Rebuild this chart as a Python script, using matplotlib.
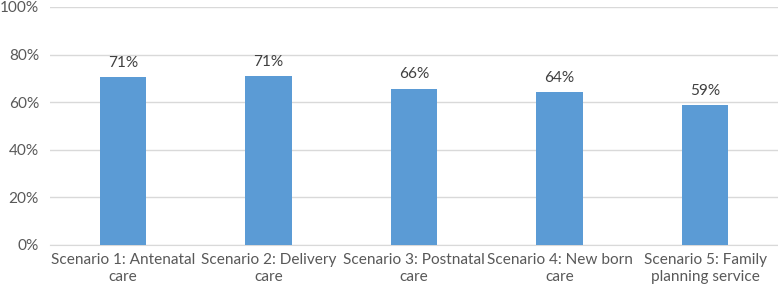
import matplotlib
matplotlib.use("Agg")
import matplotlib.pyplot as plt
import numpy as np

categories = ["Scenario 1: Antenatal\ncare", "Scenario 2: Delivery\ncare",
              "Scenario 3: Postnatal\ncare", "Scenario 4: New born\ncare",
              "Scenario 5: Family\nplanning service"]
values = [70.7, 71.1, 65.7, 64.1, 58.9]
labels = ["71%", "71%", "66%", "64%", "59%"]
yticks = [0, 20, 40, 60, 80, 100]

plt.rcParams['font.family'] = ['Lato', 'DejaVu Sans']
fs = 11.1

fig = plt.figure(figsize=(7.78, 2.94), dpi=100)
ax = fig.add_axes([50 / 778, 49 / 294, 728 / 778, 238 / 294])

x = np.arange(len(categories))
ax.bar(x, values, width=0.32, color="#5B9BD5", zorder=3)
for xi, v, lab in zip(x, values, labels):
    ax.text(xi, v + 3, lab, ha="center", va="bottom", fontsize=fs, color="#404040")

ax.set_xlim(-0.5, len(categories) - 0.5)
ax.set_ylim(0, 100)
ax.set_yticks(yticks)
ax.set_yticklabels([f"{t}%" for t in yticks], fontsize=fs, color="#595959")
ax.set_xticks(x)
ax.set_xticklabels([])
# each line of a category name centred under its bar
for xi, cat in zip(x, categories):
    for i, line in enumerate(cat.split("\n")):
        ax.annotate(line, xy=(xi, 0), xycoords=("data", "axes fraction"),
                    xytext=(0, -8 - 17 * i), textcoords="offset pixels",
                    ha="center", va="top", fontsize=fs, color="#595959")
ax.tick_params(axis="x", length=0)
ax.tick_params(axis="y", length=0, pad=8)
ax.grid(axis="y", color="#D9D9D9", linewidth=1, zorder=0)
for s in ["top", "right", "left"]:
    ax.spines[s].set_visible(False)
ax.spines["bottom"].set_color("#D9D9D9")

fig.savefig("out.png", dpi=100)
